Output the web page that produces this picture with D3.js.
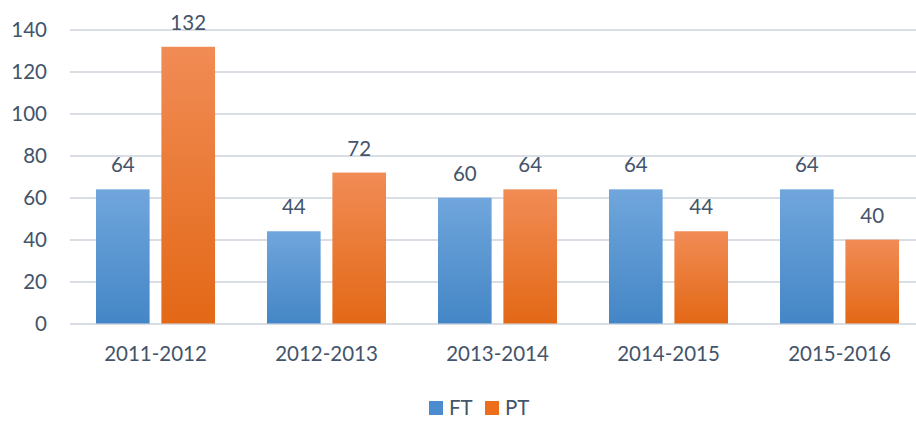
<!DOCTYPE html>
<html>
<head>
<meta charset="utf-8">
<script src="https://cdn.jsdelivr.net/npm/d3@7"></script>
<style>
  body { margin: 0; background: #fff; }
  svg { display: block; font-family: Lato, "Open Sans", sans-serif; }
  .grid line { stroke: #d9dde4; stroke-width: 2px; }
  text { fill: #44546a; }
</style>
</head>
<body>
<div id="chart"></div>
<script>
// chart data
const categories = ["2011-2012", "2012-2013", "2013-2014", "2014-2015", "2015-2016"];
const seriesNames = ["FT", "PT"];
const ftValues = [64, 44, 60, 64, 64];
const ptValues = [132, 72, 64, 44, 40];
const yTicks = [0, 20, 40, 60, 80, 100, 120, 140];

const width = 916, height = 424;
const margin = {top: 30, right: -9, bottom: 100, left: 70};
const fontSize = "20.5px";

const svg = d3.select("#chart").append("svg")
  .attr("width", width)
  .attr("height", height);

// gradients like the office look
const defs = svg.append("defs");
const grads = [
  {id: "gFT", top: "#70a6dc", bottom: "#4486c6"},
  {id: "gPT", top: "#f18c55", bottom: "#e36816"}
];
grads.forEach(g => {
  let lg = defs.append("linearGradient").attr("id", g.id)
    .attr("x1", 0).attr("y1", 0).attr("x2", 0).attr("y2", 1);
  lg.append("stop").attr("offset", "0%").attr("stop-color", g.top);
  lg.append("stop").attr("offset", "100%").attr("stop-color", g.bottom);
});

let y = d3.scaleLinear()
  .domain([0, 140])
  .range([323.5, 30]);

let x0 = d3.scaleBand()
  .domain(categories)
  .range([margin.left, width - margin.right])
  .paddingInner(0.304)
  .paddingOuter(0.152);

let x1 = d3.scaleBand()
  .domain(seriesNames)
  .range([0, x0.bandwidth()])
  .paddingInner(0.18);

const rows = categories.map((c, i) => ({cat: c, FT: ftValues[i], PT: ptValues[i]}));

// gridlines
svg.append("g")
  .attr("class", "grid")
  .selectAll("line")
  .data(yTicks)
  .enter()
  .append("line")
  .attr("x1", margin.left)
  .attr("x2", width)
  .attr("y1", d => Math.round(y(d)))
  .attr("y2", d => Math.round(y(d)));

// y axis labels
let yAxis = d3.axisLeft(y).tickValues(yTicks).tickSize(0).tickPadding(0);
svg.append("g")
  .attr("transform", "translate(47,0)")
  .call(yAxis)
  .call(g => g.select(".domain").remove())
  .selectAll("text")
  .style("font-size", fontSize)
  .style("font-family", "Lato, sans-serif")
  .attr("fill", "#44546a");

// x axis labels
let xAxis = d3.axisBottom(x0).tickSize(0).tickPadding(0);
svg.append("g")
  .attr("transform", "translate(0,346)")
  .call(xAxis)
  .call(g => g.select(".domain").remove())
  .selectAll("text")
  .style("font-size", fontSize)
  .style("font-family", "Lato, sans-serif")
  .attr("fill", "#44546a");

// bars
let groups = svg.selectAll("g.group")
  .data(rows)
  .enter()
  .append("g")
  .attr("class", "group")
  .attr("transform", d => `translate(${x0(d.cat)},0)`);

groups.selectAll("rect")
  .data(d => seriesNames.map(s => ({key: s, value: d[s]})))
  .enter()
  .append("rect")
  .attr("x", d => x1(d.key))
  .attr("width", x1.bandwidth())
  .attr("y", d => y(d.value))
  .attr("height", d => y(0) - y(d.value))
  .style("fill", d => `url(#g${d.key})`);

groups.selectAll("text.valueLabel")
  .data(d => seriesNames.map(s => ({key: s, value: d[s]})))
  .enter()
  .append("text")
  .attr("class", "valueLabel")
  .attr("x", d => x1(d.key) + x1.bandwidth() / 2)
  .attr("y", d => y(d.value) - 17)
  .style("text-anchor", "middle")
  .style("font-size", fontSize)
  .text(d => d.value);

// legend
const legendX = [429, 485];
const legendColors = ["#4a8ccd", "#ec6d1a"];
let legend = svg.selectAll("g.legend")
  .data(seriesNames)
  .enter()
  .append("g")
  .attr("class", "legend")
  .attr("transform", (d, i) => `translate(${legendX[i]},401)`);

legend.append("rect")
  .attr("width", 14)
  .attr("height", 14)
  .style("fill", (d, i) => legendColors[i]);

legend.append("text")
  .attr("x", 20)
  .attr("y", 14)
  .style("font-size", fontSize)
  .text(d => d);
</script>
</body>
</html>
